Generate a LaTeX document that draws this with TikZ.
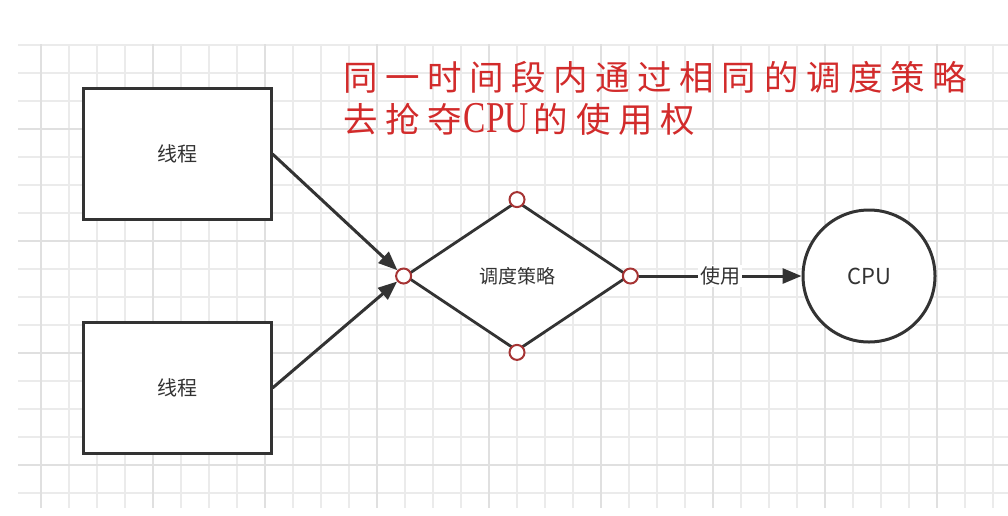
\documentclass[tikz,border=0pt]{standalone}
\usepackage{fontspec}
\newfontfamily\cjk{Noto Sans CJK SC}
\newfontfamily\cjkred[LetterSpace=22]{Noto Sans CJK SC}
\newfontfamily\latred{Liberation Serif}
\usetikzlibrary{arrows.meta,shapes.geometric}
\definecolor{ink}{HTML}{333333}
\definecolor{gridminor}{HTML}{EBEBEB}
\definecolor{gridmajor}{HTML}{E0E0E0}
\definecolor{redtext}{HTML}{D22B2B}
\definecolor{portred}{HTML}{A63434}
\tikzset{
  procbox/.style={draw=ink, line width=3pt, fill=white, minimum width=188pt, minimum height=131pt, font=\cjk\fontsize{20}{24}\selectfont, text=ink},
  decide/.style={diamond, draw=ink, line width=2.8pt, fill=white, minimum width=224pt, minimum height=150pt, inner sep=0pt, font=\cjk\fontsize{19}{24}\selectfont, text=ink},
  cpunode/.style={circle, draw=ink, line width=3pt, fill=white, minimum size=132pt, inner sep=0pt, font=\cjk\fontsize{22}{26}\selectfont, text=ink},
  port/.style={circle, draw=portred, line width=2pt, fill=white, minimum size=15pt, inner sep=0pt},
  conn/.style={draw=ink, line width=3pt, -{Triangle[length=19pt,width=15pt]}},
  lbl/.style={fill=white, font=\cjk\fontsize{20}{24}\selectfont, text=ink, inner sep=2pt},
}
\newcommand{\cpulat}{\hspace{2pt}\scalebox{0.76}[1]{\latred\fontsize{44}{42}\selectfont CPU}\hspace{5pt}}
\begin{document}
\begin{tikzpicture}[x=1pt,y=-1pt]
\useasboundingbox[fill=white] (0,0) rectangle (1008,515);
% grid
\begin{scope}
\clip (18,44) rectangle (1008,508);
\foreach \i in {0,...,35} {
  \pgfmathsetmacro{\gx}{41+28*\i}
  \draw[gridminor, line width=1.8pt] (\gx,44) -- (\gx,508);
}
\foreach \i in {0,...,16} {
  \pgfmathsetmacro{\gy}{45+28*\i}
  \draw[gridminor, line width=1.8pt] (18,\gy) -- (1008,\gy);
}
\foreach \i in {0,...,8} {
  \pgfmathsetmacro{\gx}{41+112*\i}
  \draw[gridmajor, line width=2pt] (\gx,44) -- (\gx,508);
}
\foreach \i in {0,...,3} {
  \pgfmathsetmacro{\gy}{129+112*\i}
  \draw[gridmajor, line width=2pt] (18,\gy) -- (1008,\gy);
}
\end{scope}
% title text
\node[anchor=north west, align=left, text=redtext, inner sep=0pt,
      font=\cjkred\fontsize{34.5}{42}\selectfont] (title) at (343,61)
  {同一时间段内通过相同的调度策略\\去抢夺\cpulat 的使用权};
% nodes
\node[procbox] (t1) at (177,154) {线程};
\node[procbox] (t2) at (177,388) {线程};
\node[decide] (sched) at (517,276) {调度策略};
\node[cpunode] (cpu) at (869,276) {CPU};
\node[port] (pl) at (sched.west) {};
\node[port] (pt) at (sched.north) {};
\node[port] (pb) at (sched.south) {};
\node[port] (pr) at (sched.east) {};
% connectors
\draw[conn] (t1.east) -- (pl);
\draw[conn] (t2.east) -- (pl);
\draw[conn] (pr) -- node[lbl] (use) {使用} (cpu);
\end{tikzpicture}
\end{document}
